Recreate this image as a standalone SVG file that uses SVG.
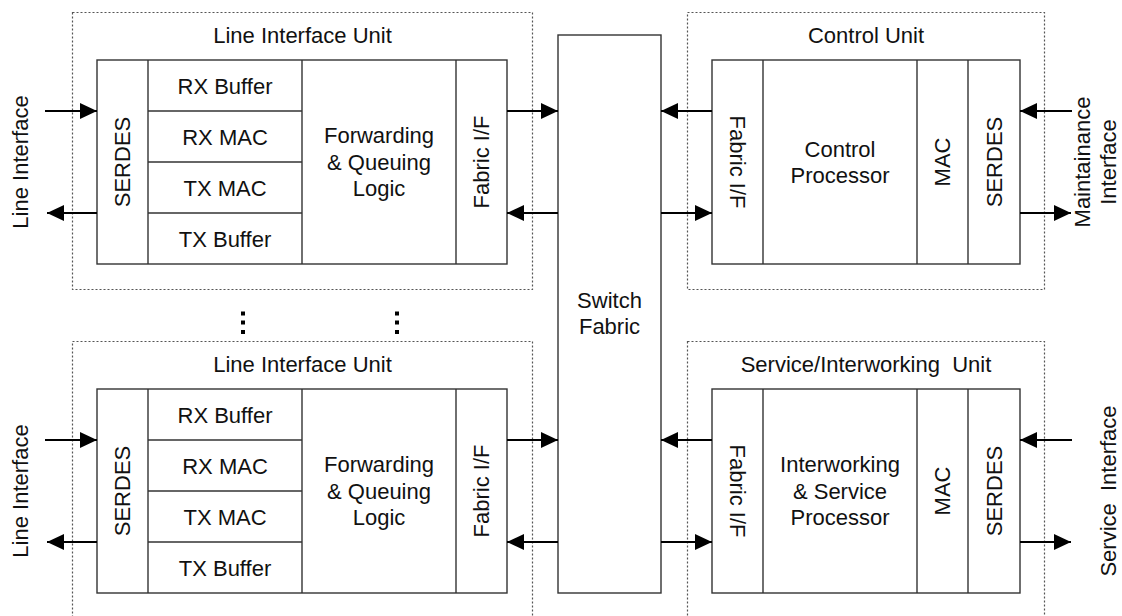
<svg xmlns="http://www.w3.org/2000/svg" width="1122" height="616" viewBox="0 0 1122 616">
<style>
.unit{fill:none;stroke:#555;stroke-width:1.2;stroke-dasharray:2,2}
.box{fill:#fff;stroke:#333;stroke-width:1.4}
.div{stroke:#333;stroke-width:1.4}
.t{font-family:"Liberation Sans",Arial,sans-serif;font-size:22px;fill:#111;text-anchor:middle}
.c{stroke:#000;stroke-width:2;fill:none;marker-end:url(#ah)}
</style>
<defs>
<marker id="ah" markerUnits="userSpaceOnUse" markerWidth="20" markerHeight="18" refX="17" refY="8" orient="auto" viewBox="0 0 20 18">
<path d="M0,0 L17,8 L0,16 z" fill="#000"/>
</marker>
</defs>
<rect width="1122" height="616" fill="#fff"/>

<g id="liu-top">
<rect class="unit" x="72.5" y="12.5" width="460" height="277"/>
<text class="t" x="302.5" y="43">Line Interface Unit</text>
<rect class="box" x="97" y="60" width="410" height="204"/>
<line class="div" x1="148" y1="60" x2="148" y2="264"/>
<line class="div" x1="302" y1="60" x2="302" y2="264"/>
<line class="div" x1="456" y1="60" x2="456" y2="264"/>
<line class="div" x1="148" y1="111" x2="302" y2="111"/>
<line class="div" x1="148" y1="162" x2="302" y2="162"/>
<line class="div" x1="148" y1="213" x2="302" y2="213"/>
<text class="t" transform="translate(122.5,162) rotate(-90)" y="7.7">SERDES</text>
<text class="t" x="225" y="93.5">RX Buffer</text>
<text class="t" x="225" y="144.5">RX MAC</text>
<text class="t" x="225" y="195.5">TX MAC</text>
<text class="t" x="225" y="246.5">TX Buffer</text>
<text class="t" x="379" y="143">Forwarding</text>
<text class="t" x="379" y="169.5">&amp; Queuing</text>
<text class="t" x="379" y="196">Logic</text>
<text class="t" transform="translate(481.5,162) rotate(-90)" y="7.7">Fabric I/F</text>
</g>

<g id="liu-bottom">
<rect class="unit" x="72.5" y="341.5" width="460" height="290"/>
<text class="t" x="302.5" y="372">Line Interface Unit</text>
<rect class="box" x="97" y="389" width="410" height="204"/>
<line class="div" x1="148" y1="389" x2="148" y2="593"/>
<line class="div" x1="302" y1="389" x2="302" y2="593"/>
<line class="div" x1="456" y1="389" x2="456" y2="593"/>
<line class="div" x1="148" y1="440" x2="302" y2="440"/>
<line class="div" x1="148" y1="491" x2="302" y2="491"/>
<line class="div" x1="148" y1="542" x2="302" y2="542"/>
<text class="t" transform="translate(122.5,491) rotate(-90)" y="7.7">SERDES</text>
<text class="t" x="225" y="422.5">RX Buffer</text>
<text class="t" x="225" y="473.5">RX MAC</text>
<text class="t" x="225" y="524.5">TX MAC</text>
<text class="t" x="225" y="575.5">TX Buffer</text>
<text class="t" x="379" y="472">Forwarding</text>
<text class="t" x="379" y="498.5">&amp; Queuing</text>
<text class="t" x="379" y="525">Logic</text>
<text class="t" transform="translate(481.5,491) rotate(-90)" y="7.7">Fabric I/F</text>
</g>

<g id="ellipsis">
<rect x="241" y="311.5" width="4" height="4" fill="#000"/>
<rect x="241" y="320.5" width="4" height="4" fill="#000"/>
<rect x="241" y="330" width="4" height="4" fill="#000"/>
<rect x="395" y="311.5" width="4" height="4" fill="#000"/>
<rect x="395" y="320.5" width="4" height="4" fill="#000"/>
<rect x="395" y="330" width="4" height="4" fill="#000"/>
</g>

<g id="switch-fabric">
<rect class="box" x="558" y="35" width="103" height="558"/>
<text class="t" x="609.5" y="307.5">Switch</text>
<text class="t" x="609.5" y="333.5">Fabric</text>
</g>

<g id="control-unit">
<rect class="unit" x="687.5" y="12.5" width="357" height="277"/>
<text class="t" x="866" y="43">Control Unit</text>
<rect class="box" x="712" y="60" width="308" height="204"/>
<line class="div" x1="763" y1="60" x2="763" y2="264"/>
<line class="div" x1="917" y1="60" x2="917" y2="264"/>
<line class="div" x1="968" y1="60" x2="968" y2="264"/>
<text class="t" transform="translate(737.5,162) rotate(90)" y="7.7">Fabric I/F</text>
<text class="t" x="840" y="156.5">Control</text>
<text class="t" x="840" y="183">Processor</text>
<text class="t" transform="translate(942.5,162) rotate(-90)" y="7.7">MAC</text>
<text class="t" transform="translate(994,162) rotate(-90)" y="7.7">SERDES</text>
</g>

<g id="service-unit">
<rect class="unit" x="687.5" y="341.5" width="357" height="290"/>
<text class="t" x="866" y="372" xml:space="preserve">Service/Interworking  Unit</text>
<rect class="box" x="712" y="389" width="308" height="204"/>
<line class="div" x1="763" y1="389" x2="763" y2="593"/>
<line class="div" x1="917" y1="389" x2="917" y2="593"/>
<line class="div" x1="968" y1="389" x2="968" y2="593"/>
<text class="t" transform="translate(737.5,491) rotate(90)" y="7.7">Fabric I/F</text>
<text class="t" x="840" y="472">Interworking</text>
<text class="t" x="840" y="498.5">&amp; Service</text>
<text class="t" x="840" y="525">Processor</text>
<text class="t" transform="translate(942.5,491) rotate(-90)" y="7.7">MAC</text>
<text class="t" transform="translate(994,491) rotate(-90)" y="7.7">SERDES</text>
</g>

<g id="external-labels">
<text class="t" transform="translate(20,162) rotate(-90)" y="7.7">Line Interface</text>
<text class="t" transform="translate(20,491) rotate(-90)" y="7.7">Line Interface</text>
<text class="t" transform="translate(1095,162) rotate(-90)"><tspan x="0" y="-5.3">Maintainance</tspan><tspan x="0" y="20.7">Interface</tspan></text>
<text class="t" transform="translate(1108,491) rotate(-90)" y="7.7" xml:space="preserve">Service  Interface</text>
</g>

<g id="connectors">
<line class="c" x1="45" y1="111" x2="97" y2="111"/>
<line class="c" x1="97" y1="213" x2="47" y2="213"/>
<line class="c" x1="507" y1="111" x2="558" y2="111"/>
<line class="c" x1="558" y1="213" x2="507" y2="213"/>
<line class="c" x1="712" y1="111" x2="661" y2="111"/>
<line class="c" x1="661" y1="213" x2="712" y2="213"/>
<line class="c" x1="1072" y1="111" x2="1020" y2="111"/>
<line class="c" x1="1020" y1="213" x2="1071" y2="213"/>
<line class="c" x1="45" y1="440" x2="97" y2="440"/>
<line class="c" x1="97" y1="542" x2="47" y2="542"/>
<line class="c" x1="507" y1="440" x2="558" y2="440"/>
<line class="c" x1="558" y1="542" x2="507" y2="542"/>
<line class="c" x1="712" y1="440" x2="661" y2="440"/>
<line class="c" x1="661" y1="542" x2="712" y2="542"/>
<line class="c" x1="1072" y1="440" x2="1020" y2="440"/>
<line class="c" x1="1020" y1="542" x2="1071" y2="542"/>
</g>
</svg>
